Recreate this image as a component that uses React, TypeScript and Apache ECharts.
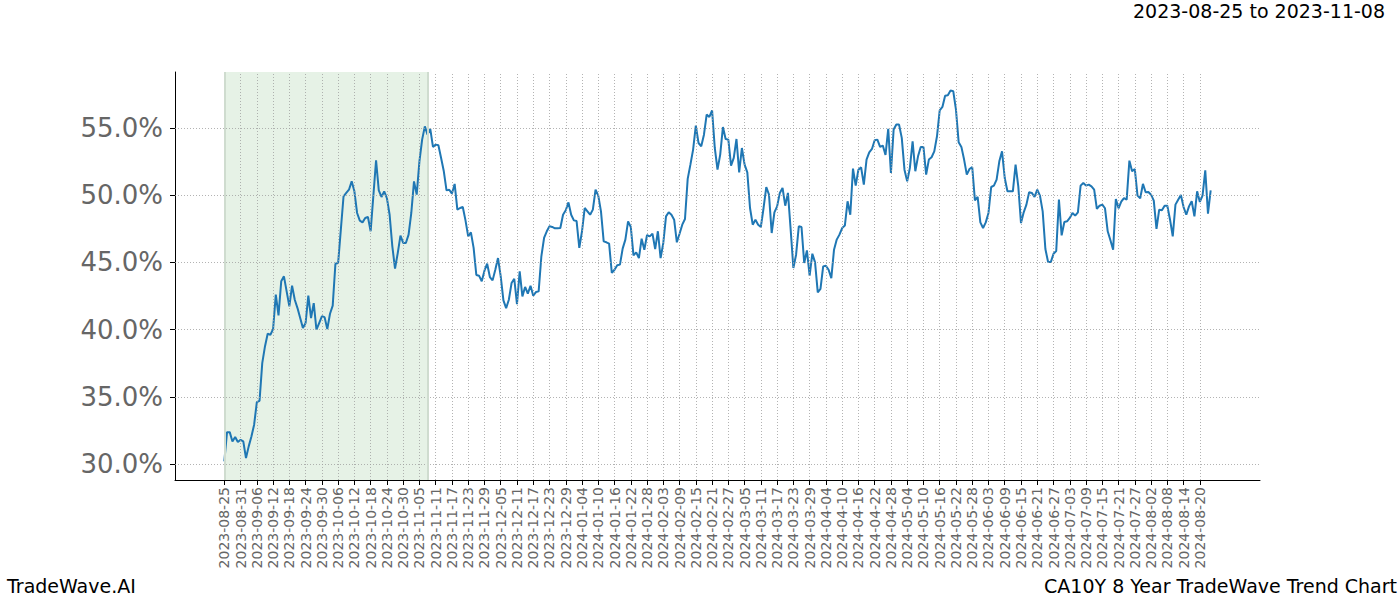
import React, { useEffect, useRef } from "react";
import * as echarts from "echarts";

// Tick labels, one every 6 rows of data (row index = position in `values`)
const tickLabels = [
  "2023-08-25", "2023-08-31", "2023-09-06", "2023-09-12", "2023-09-18", "2023-09-24",
  "2023-09-30", "2023-10-06", "2023-10-12", "2023-10-18", "2023-10-24", "2023-10-30",
  "2023-11-05", "2023-11-11", "2023-11-17", "2023-11-23", "2023-11-29", "2023-12-05",
  "2023-12-11", "2023-12-17", "2023-12-23", "2023-12-29", "2024-01-04", "2024-01-10",
  "2024-01-16", "2024-01-22", "2024-01-28", "2024-02-03", "2024-02-09", "2024-02-15",
  "2024-02-21", "2024-02-27", "2024-03-05", "2024-03-11", "2024-03-17", "2024-03-23",
  "2024-03-29", "2024-04-04", "2024-04-10", "2024-04-16", "2024-04-22", "2024-04-28",
  "2024-05-04", "2024-05-10", "2024-05-16", "2024-05-22", "2024-05-28", "2024-06-03",
  "2024-06-09", "2024-06-15", "2024-06-21", "2024-06-27", "2024-07-03", "2024-07-09",
  "2024-07-15", "2024-07-21", "2024-07-27", "2024-08-02", "2024-08-08", "2024-08-14",
  "2024-08-20",
];
const tickStep = 6;

// Series values (%), one per daily row starting 2023-08-25
const values: (number | null)[] = [
  30.21, 32.39, 32.39, 31.70, 32.03, 31.65, 31.82, 31.70, 30.46, 31.33,
  32.07, 32.94, 34.62, 34.72, 37.52, 38.76, 39.70, 39.63, 40.05, 42.61,
  41.07, 43.60, 43.97, 42.85, 41.74, 43.28, 42.23, 41.61, 40.87, 40.13,
  40.50, 42.53, 40.87, 41.98, 40.00, 40.50, 41.00, 40.94, 40.05, 41.19,
  41.79, 44.91, 44.96, 47.44, 49.92, 50.17, 50.41, 51.03, 50.29, 48.68,
  48.11, 47.98, 48.31, 48.38, 47.32, null, 52.60, 50.36, 49.87, 50.29,
  49.79, 48.55, 46.20, 44.54, 45.70, 46.99, 46.45, 46.45, 47.07, 48.68,
  51.03, 50.04, 52.52, 54.13, 55.12, 54.50, 54.93, 53.59, 53.76, 53.71,
  52.77, 51.78, 50.36, 50.41, 50.12, 50.84, 48.93, 49.05, 49.12, 48.13,
  46.94, 47.24, 46.08, 44.07, 44.02, 43.60, 44.39, 44.91, 43.92, 43.67,
  44.46, 45.33, 43.97, 42.18, 41.61, 42.23, 43.47, 43.79, 41.91, 44.34,
  42.48, 43.18, 42.68, 43.27, 42.53, 42.80, 42.85, 45.46, 46.82, 47.32,
  47.69, 47.64, 47.54, 47.54, 47.56, 48.55, 48.88, 49.47, 48.55, 48.13,
  48.08, 46.08, 47.32, 49.05, 48.80, 48.55, 48.93, 50.41, 49.97, 48.80,
  46.57, 46.50, 46.40, 44.22, 44.46, 44.79, 44.84, 46.03, 46.70, 48.06,
  47.64, 45.53, 45.75, 45.33, 46.77, 45.95, 47.04, 46.94, 47.14, 46.00,
  47.32, 45.33, 46.45, 48.43, 48.73, 48.55, 48.18, 46.50, 47.14, 47.81,
  48.23, 51.21, 52.27, 53.39, 55.17, 53.88, 53.64, 54.50, 55.99, 55.82,
  56.31, 53.51, 51.90, 53.02, 55.07, 54.18, 54.13, 52.20, 52.77, 54.18,
  51.70, 53.51, 52.27, 51.70, 49.05, 47.81, 48.18, 47.81, 47.64, 49.05,
  50.61, 50.04, 47.19, 48.73, 49.17, 50.17, 50.54, 49.22, 50.17, 47.44,
  44.59, 45.58, 47.69, 47.64, 44.96, 45.90, 44.02, 45.65, 45.01, 42.78,
  43.03, 44.71, 44.76, 44.46, 43.84, 45.95, 46.70, 47.07, 47.56, 47.74,
  49.55, 48.55, 51.98, 50.71, 51.90, 52.07, 50.79, 52.65, 53.19, 53.44,
  54.08, 54.13, 53.59, 53.69, 52.99, 54.93, 51.65, 54.88, 55.25, 55.25,
  54.26, 51.90, 51.03, 52.03, 54.01, 51.78, 52.89, 53.59, 53.59, 51.53,
  52.65, 52.82, 53.26, 54.38, 56.31, 56.56, 57.40, 57.43, 57.78, 57.73,
  56.36, 53.93, 53.59, 52.65, 51.53, 51.95, 52.10, 49.62, 49.87, 47.98,
  47.56, 47.98, 48.68, 50.61, 50.71, 51.16, 52.52, 53.26, 51.28, 50.29,
  50.29, 50.29, 52.27, 50.66, 47.93, 48.73, 49.30, 50.22, 50.17, 49.87,
  50.41, 49.97, 48.80, 46.00, 45.03, 45.03, 45.65, 45.85, 49.67, 47.02,
  48.01, 48.06, 48.31, 48.68, 48.48, 48.73, 50.71, 50.91, 50.71, 50.79,
  50.66, 50.41, 48.98, 49.22, 49.30, 49.03, 47.32, 46.65, 45.95, 49.72,
  49.03, 49.52, 49.79, 49.67, 52.57, 51.78, 51.95, 49.97, 49.77, 50.84,
  50.22, 50.24, 50.04, 49.60, 47.49, 48.93, 48.88, 49.22, 49.22, 48.18,
  46.94, 49.30, 49.67, 50.02, 49.12, 48.55, 49.17, 49.55, 48.43, 50.29,
  49.50, 49.97, 51.85, 48.63, 50.36,
];

// Y tick values (%)
const yTicks = [30, 35, 40, 45, 50, 55];

// Highlighted window (row indices): 2023-08-25 .. 2023-11-08
const highlightStartRow = 0;
const highlightEndRow = 75;

const titleText = "2023-08-25 to 2023-11-08";
const footerLeft = "TradeWave.AI";
const footerRight = "CA10Y 8 Year TradeWave Trend Chart";

export default function App() {
  const ref = useRef<HTMLDivElement>(null);

  useEffect(() => {
    if (!ref.current) return;
    const chart = echarts.init(ref.current, null, { renderer: "svg" });
    const font = "DejaVu Sans";
    const tickPos = tickLabels.map((_, i) => i * tickStep);
    const lineData = values
      .map((v, i) => [i, v])
      .filter((d) => d[1] !== null);
    const lastRow = values.length - 1;
    const pad = lastRow * 0.05;
    const finite = values.filter((v) => v !== null) as number[];
    const yMinData = Math.min(...finite);
    const yMaxData = Math.max(...finite);
    const yPad = (yMaxData - yMinData) * 0.05;

    const gridLineStyle = { color: "#a0a0a0", width: 0.8, type: [1, 2] as any };

    const option: any = {
      animation: false,
      grid: { left: 175, right: 140, top: 72, bottom: 120, containLabel: false },
      xAxis: {
        type: "value",
        min: -pad,
        max: lastRow + pad,
        axisLine: { show: true, onZero: false, lineStyle: { color: "#000", width: 1 } },
        axisTick: { show: true, customValues: tickPos, length: 5, lineStyle: { color: "#000", width: 1 } },
        axisLabel: {
          customValues: tickPos,
          rotate: 90,
          formatter: (v: number) => tickLabels[Math.round(v / tickStep)] ?? "",
          fontSize: 14,
          color: "#666",
          fontFamily: font,
          margin: 7,
        },
        splitLine: { show: false },
      },
      yAxis: {
        type: "value",
        min: yMinData - yPad,
        max: yMaxData + yPad,
        axisLine: { show: true, onZero: false, lineStyle: { color: "#000", width: 1 } },
        axisTick: { show: true, customValues: yTicks, length: 5, lineStyle: { color: "#000", width: 1 } },
        axisLabel: {
          customValues: yTicks,
          formatter: (v: number) => v.toFixed(1) + "%",
          fontSize: 26,
          color: "#666",
          fontFamily: font,
          margin: 12,
        },
        splitLine: { show: false },
      },
      series: [
        {
          type: "line",
          data: [],
          silent: true,
          z: 1,
          markArea: {
            silent: true,
            itemStyle: { color: "#e6f2e6" },
            data: [[{ xAxis: highlightStartRow }, { xAxis: highlightEndRow }]],
          },
          markLine: {
            silent: true,
            symbol: ["none", "none"],
            label: { show: false },
            lineStyle: gridLineStyle,
            data: [
              ...tickPos.map((p) => ({ xAxis: p })),
              ...yTicks.map((v) => ({ yAxis: v })),
              { xAxis: highlightStartRow, lineStyle: { color: "#cfdccf", width: 2, type: "solid" } },
              { xAxis: highlightEndRow, lineStyle: { color: "#cfdccf", width: 2, type: "solid" } },
            ],
          },
        },
        {
          type: "line",
          data: lineData,
          showSymbol: false,
          symbol: "none",
          connectNulls: true,
          z: 3,
          lineStyle: { color: "#1f77b4", width: 2 },
        },
      ],
      graphic: [
        {
          type: "text",
          right: 15,
          top: 1,
          style: { text: titleText, font: `19px "${font}"`, fill: "#000" },
        },
        {
          type: "text",
          left: 7,
          top: 576,
          style: { text: footerLeft, font: `19px "${font}"`, fill: "#000" },
        },
        {
          type: "text",
          right: 3,
          top: 576,
          style: { text: footerRight, font: `19px "${font}"`, fill: "#000" },
        },
      ],
    };

    chart.setOption(option);
    return () => chart.dispose();
  }, []);

  return (
    <div
      ref={ref}
      style={{ position: "fixed", left: 0, top: 0, width: 1400, height: 600, background: "#fff" }}
    />
  );
}
